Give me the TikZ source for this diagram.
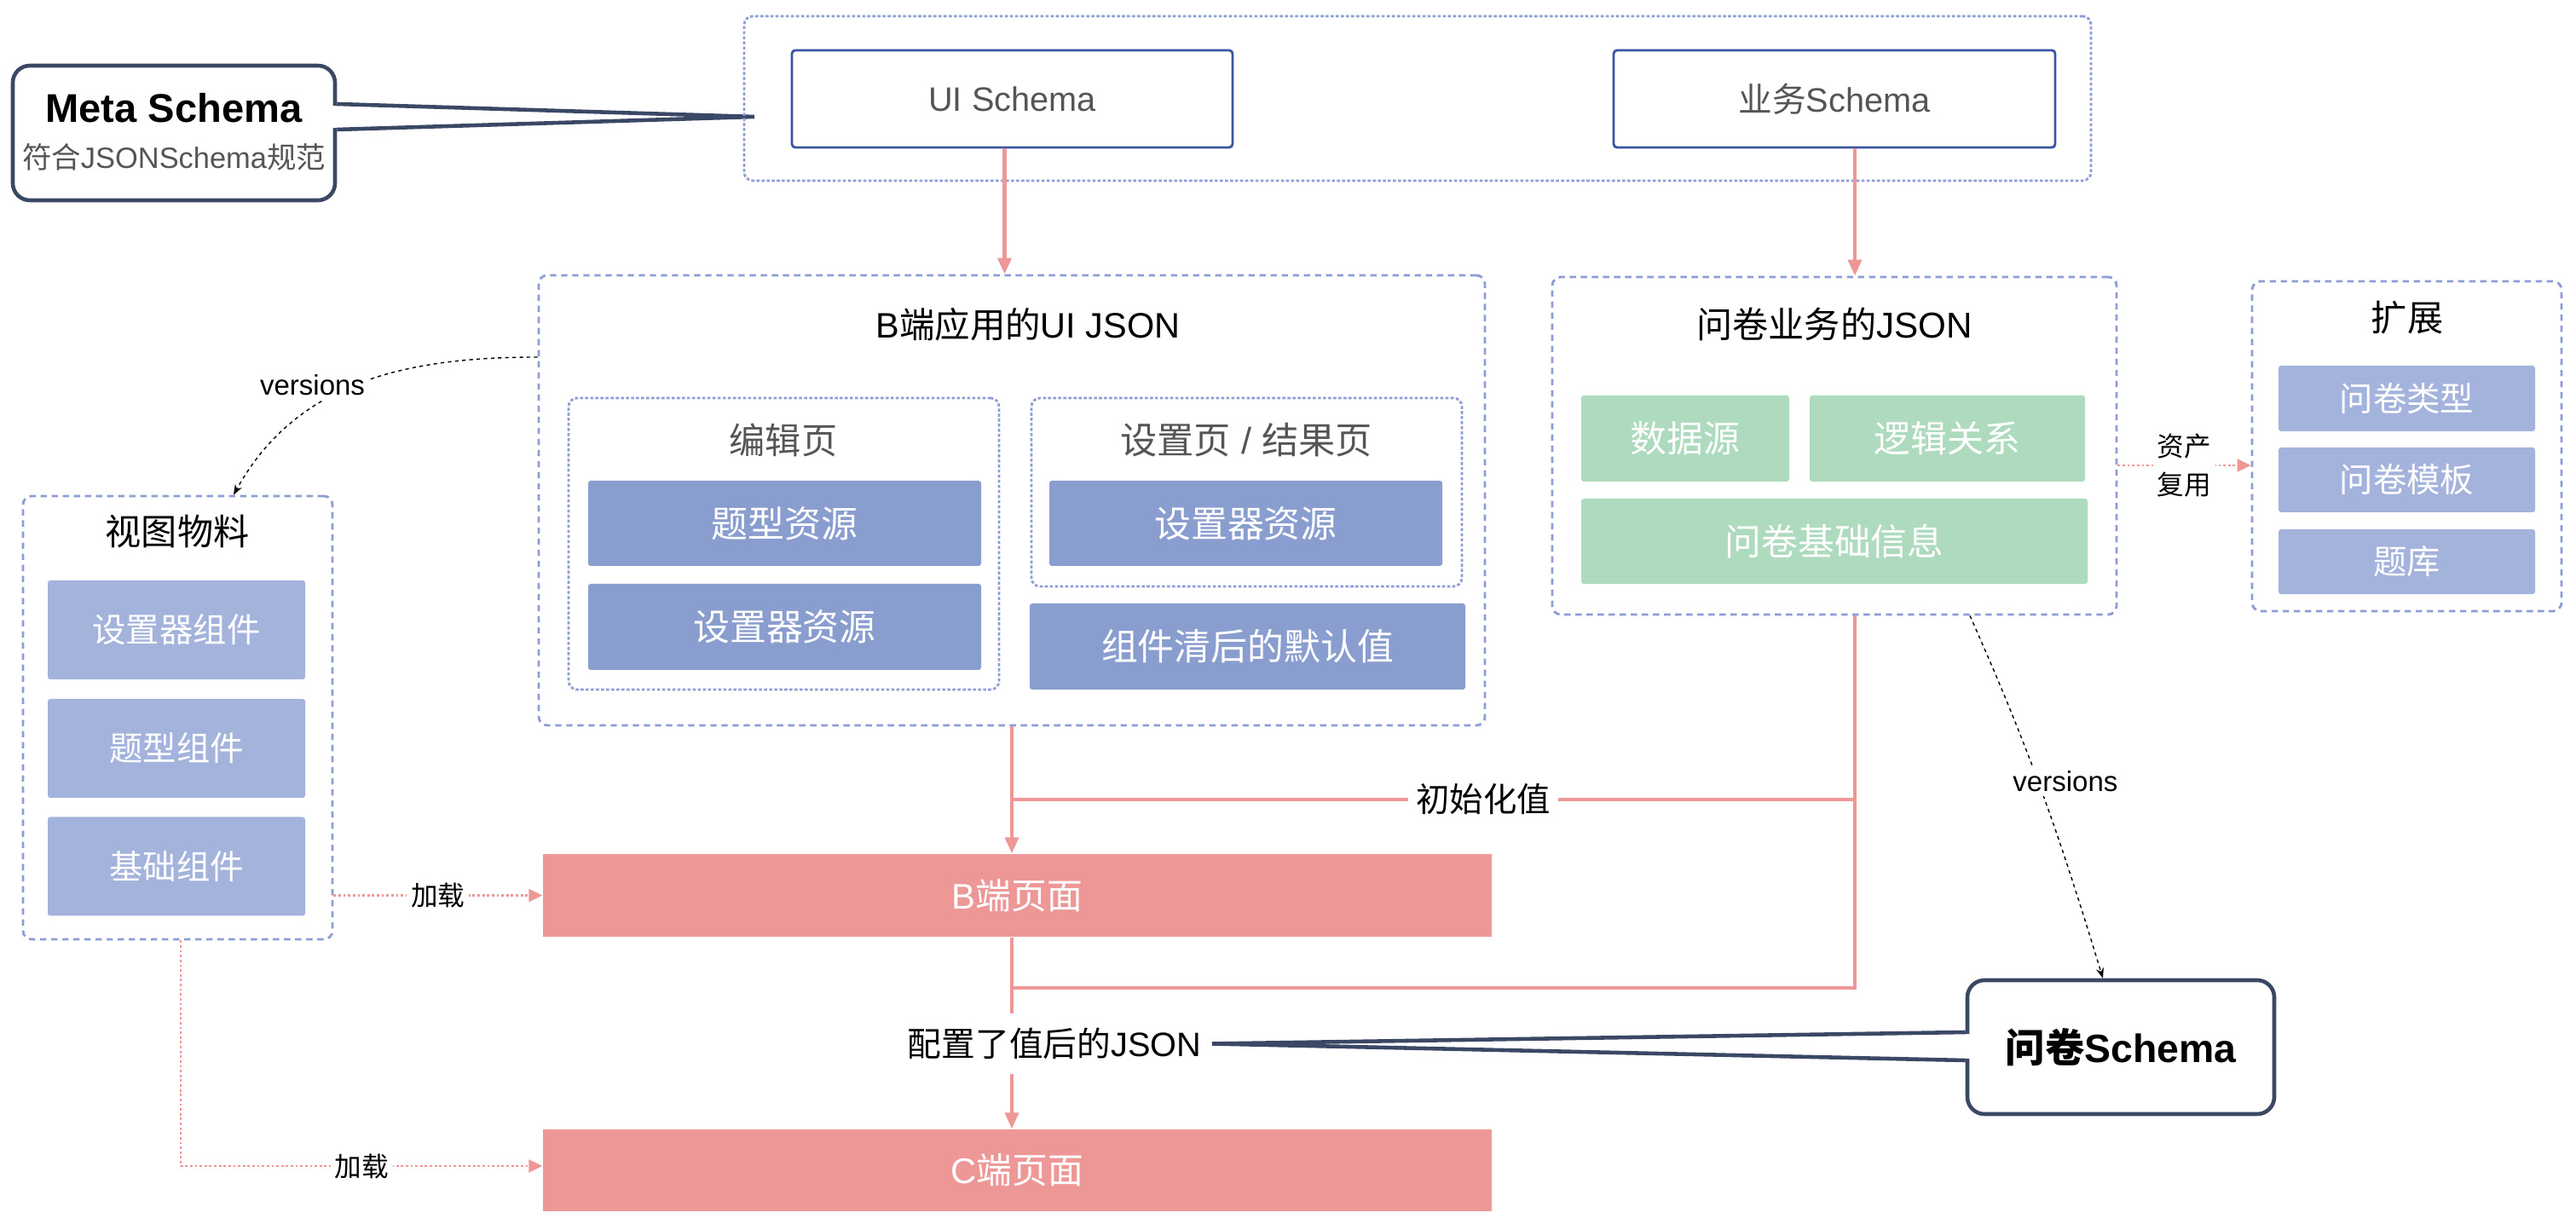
\documentclass[tikz,border=0pt]{standalone}
\usepackage{fontspec}
\setmainfont{Liberation Sans}
\newfontfamily\cjk{Noto Sans CJK SC}
\usetikzlibrary{arrows.meta}

\newcommand{\zh}[1]{{\cjk #1}}

\definecolor{navy}{HTML}{3A4865}
\definecolor{schemablue}{HTML}{3B55A2}
\definecolor{dashblue}{HTML}{8D9DD6}
\definecolor{resblue}{HTML}{8A9DCF}
\definecolor{lightblue}{HTML}{A4B3DC}
\definecolor{mint}{HTML}{AEDBBE}
\definecolor{pagepink}{HTML}{EE9797}
\definecolor{textgray}{HTML}{555555}

\tikzset{
  container/.style={draw=dashblue, line width=0.8pt, dash pattern=on 2.1pt off 1.6pt, rounded corners=0.1cm, inner sep=0},
  subcontainer/.style={draw=dashblue, line width=0.8pt, dash pattern=on 1pt off 0.7pt, rounded corners=0.1cm, inner sep=0},
  schemabox/.style={draw=schemablue, line width=0.8pt, rounded corners=0.04cm, text=textgray, font=\fontsize{11.3}{13}\selectfont, inner sep=0},
  resbox/.style={fill=resblue, text=white, rounded corners=0.03cm, font=\fontsize{12.2}{14}\selectfont, inner sep=0},
  viewbox/.style={fill=lightblue, text=white, rounded corners=0.03cm, font=\fontsize{11.2}{13}\selectfont, inner sep=0},
  bizbox/.style={fill=mint, text=white, rounded corners=0.03cm, font=\fontsize{12.2}{14}\selectfont, inner sep=0},
  pagebox/.style={fill=pagepink, text=white, font=\fontsize{11.9}{14}\selectfont, inner sep=0},
  calloutbox/.style={draw=navy, line width=1.3pt, rounded corners=0.2cm, fill=white, inner sep=0},
  calloutline/.style={draw=navy, line width=1.3pt},
  boxtitle/.style={font=\fontsize{12}{14}\selectfont, inner sep=0},
  flow/.style={draw=pagepink, line width=1.15pt},
  flowarrow/.style={flow, -{Triangle[length=0.19cm,width=0.16cm]}},
  loadarrow/.style={draw=pagepink, line width=0.6pt, dash pattern=on 0.8pt off 0.8pt, -{Triangle[length=0.16cm,width=0.15cm]}},
  version/.style={draw=black, line width=0.4pt, dash pattern=on 1.2pt off 1.2pt, -{Stealth[length=0.12cm,width=0.09cm]}},
  smalllabel/.style={font=\fontsize{9}{13}\selectfont, fill=white, inner sep=0.05cm},
  verlabel/.style={font=\fontsize{9.4}{12}\selectfont, fill=white, inner sep=0.05cm},
}

\begin{document}
\begin{tikzpicture}
  \path[use as bounding box, fill=white] (0,0) rectangle (30.22,-14.36);

  % Meta Schema callout
  \coordinate (metatip) at (8.85,-1.37);
  \node[calloutbox, minimum width=3.78cm, minimum height=1.58cm] (meta) at (2.04,-1.56) {};
  \fill[white] ([xshift=-0.05cm,yshift=0.32cm]meta.east) rectangle ([xshift=0.05cm,yshift=0.06cm]meta.east);
  \draw[calloutline] ([yshift=0.34cm]meta.east) -- (metatip) -- ([yshift=0.04cm]meta.east);
  \node[font=\fontsize{13.4}{16}\bfseries, inner sep=0] (metatitle) at (2.04,-1.27) {Meta Schema};
  \node[font=\fontsize{9.8}{12}\selectfont, text=textgray, inner sep=0] (metanote) at (2.04,-1.84) {\zh{符合}JSONSchema\zh{规范}};

  % schema row
  \node[subcontainer, minimum width=15.80cm, minimum height=1.93cm] (schemas) at (16.63,-1.155) {};
  \node[schemabox, minimum width=5.17cm, minimum height=1.14cm] (uischema) at (11.875,-1.16) {UI Schema};
  \node[schemabox, minimum width=5.18cm, minimum height=1.14cm] (bizschema) at (21.52,-1.16) {\zh{业务}Schema};

  % B side UI JSON
  \node[container, minimum width=11.10cm, minimum height=5.28cm] (bui) at (11.87,-5.87) {};
  \node[boxtitle, font=\fontsize{11.8}{14}\selectfont] (buititle) at (12.06,-3.81) {B\zh{端应用的}UI JSON};
  \node[subcontainer, minimum width=5.05cm, minimum height=3.42cm] (editpg) at (9.195,-6.38) {};
  \node[boxtitle, text=textgray] (edittitle) at (9.19,-5.16) {\zh{编辑页}};
  \node[resbox, minimum width=4.61cm, minimum height=1.00cm] (typeres) at (9.205,-6.14) {\zh{题型资源}};
  \node[resbox, minimum width=4.61cm, minimum height=1.01cm] (setres) at (9.205,-7.355) {\zh{设置器资源}};
  \node[subcontainer, minimum width=5.05cm, minimum height=2.21cm] (setpg) at (14.625,-5.775) {};
  \node[boxtitle, text=textgray, font=\fontsize{12.3}{14}\selectfont] (settitle) at (14.62,-5.16) {\zh{设置页} / \zh{结果页}};
  \node[resbox, minimum width=4.61cm, minimum height=1.00cm] (setres2) at (14.615,-6.14) {\zh{设置器资源}};
  \node[resbox, minimum width=5.11cm, minimum height=1.01cm] (defaults) at (14.635,-7.585) {\zh{组件清后的默认值}};

  % questionnaire JSON
  \node[container, minimum width=6.62cm, minimum height=3.96cm] (biz) at (21.52,-5.23) {};
  \node[boxtitle] (biztitle) at (21.52,-3.80) {\zh{问卷业务的}JSON};
  \node[bizbox, minimum width=2.44cm, minimum height=1.01cm] (datasrc) at (19.77,-5.145) {\zh{数据源}};
  \node[bizbox, minimum width=3.23cm, minimum height=1.01cm] (logic) at (22.845,-5.145) {\zh{逻辑关系}};
  \node[bizbox, minimum width=5.94cm, minimum height=1.00cm] (basic) at (21.52,-6.35) {\zh{问卷基础信息}};

  % extension
  \node[container, minimum width=3.63cm, minimum height=3.87cm] (ext) at (28.235,-5.235) {};
  \node[boxtitle] (exttitle) at (28.24,-3.73) {\zh{扩展}};
  \node[viewbox, minimum width=3.01cm, minimum height=0.77cm] (qtype) at (28.235,-4.675) {\zh{问卷类型}};
  \node[viewbox, minimum width=3.01cm, minimum height=0.76cm] (qtpl) at (28.235,-5.63) {\zh{问卷模板}};
  \node[viewbox, minimum width=3.01cm, minimum height=0.76cm] (qbank) at (28.235,-6.59) {\zh{题库}};

  % view materials
  \node[container, minimum width=3.63cm, minimum height=5.20cm] (view) at (2.085,-8.42) {};
  \node[boxtitle] (viewtitle) at (2.08,-6.24) {\zh{视图物料}};
  \node[viewbox, minimum width=3.02cm, minimum height=1.16cm] (vset) at (2.07,-7.39) {\zh{设置器组件}};
  \node[viewbox, minimum width=3.02cm, minimum height=1.16cm] (vtype) at (2.07,-8.78) {\zh{题型组件}};
  \node[viewbox, minimum width=3.02cm, minimum height=1.16cm] (vbase) at (2.07,-10.165) {\zh{基础组件}};

  % pages
  \node[pagebox, minimum width=11.13cm, minimum height=0.97cm] (bpage) at (11.935,-10.505) {B\zh{端页面}};
  \node[pagebox, minimum width=11.13cm, minimum height=0.96cm] (cpage) at (11.935,-13.73) {C\zh{端页面}};

  % questionnaire schema callout
  \node[calloutbox, minimum width=3.60cm, minimum height=1.57cm] (qschema) at (24.88,-12.285) {};
  \node[font=\fontsize{13.2}{16}\bfseries, inner sep=0] (qschematitle) at (24.88,-12.29) {\zh{问卷}Schema};

  % labels on the flow
  \node[font=\fontsize{11.2}{13}\selectfont, inner xsep=0.085cm] (init) at (17.40,-9.38) {\zh{初始化值}};
  \node[font=\fontsize{11.3}{13}\selectfont, inner xsep=0.12cm, inner ysep=0, minimum height=0.69cm] (cfg) at (12.37,-12.245) {\zh{配置了值后的}JSON};
  \coordinate (cfgjoin) at (11.87,-11.59);

  \fill[white] ([xshift=-0.05cm,yshift=0.155cm]qschema.west) rectangle ([xshift=0.05cm,yshift=-0.135cm]qschema.west);
  \draw[calloutline] ([yshift=0.175cm]qschema.west) -- (cfg.east) -- ([yshift=-0.155cm]qschema.west);

  % main flow
  \draw[flowarrow] ([xshift=-0.09cm]uischema.south) -- ([xshift=-0.09cm]uischema.south |- bui.north);
  \draw[flowarrow] ([xshift=0.24cm]bizschema.south) -- ([xshift=0.24cm]bizschema.south |- biz.north);
  \draw[flowarrow] (bui.south) -- (bui.south |- bpage.north);
  \draw[flow] (init.west) -- (bui.south |- init.west);
  \draw[flow] (init.east) -- ([xshift=0.24cm]biz.south |- init.east);
  \draw[flow] ([xshift=0.24cm]biz.south) |- (cfgjoin);
  \draw[flow] (bui.south |- bpage.south) -- (bui.south |- cfg.north);
  \draw[flowarrow] (bui.south |- cfg.south) -- (bui.south |- cpage.north);

  % loading
  \draw[loadarrow] (view.east |- bpage.west) -- node[smalllabel] (load1) {\zh{加载}} (bpage.west);
  \draw[loadarrow] ([xshift=0.035cm]view.south) |- node[smalllabel, pos=0.75] (load2) {\zh{加载}} ([yshift=0.05cm]cpage.west);
  \draw[loadarrow] ([yshift=-0.23cm]biz.east) -- node[smalllabel, align=center] (reuse) {\zh{资产}\\\zh{复用}} ([yshift=-0.23cm]biz.east -| ext.west);

  % versions
  \draw[version] ([yshift=1.68cm]bui.west) to[out=180, in=61] node[verlabel, pos=0.6, xshift=-0.21cm, yshift=0.14cm] (ver1) {versions} ([xshift=0.655cm]view.north);
  \draw[version] ([xshift=1.59cm]biz.south) to[out=-66, in=107] node[verlabel, pos=0.46, xshift=0.32cm] (ver2) {versions} ([xshift=-0.21cm]qschema.north);
\end{tikzpicture}
\end{document}
